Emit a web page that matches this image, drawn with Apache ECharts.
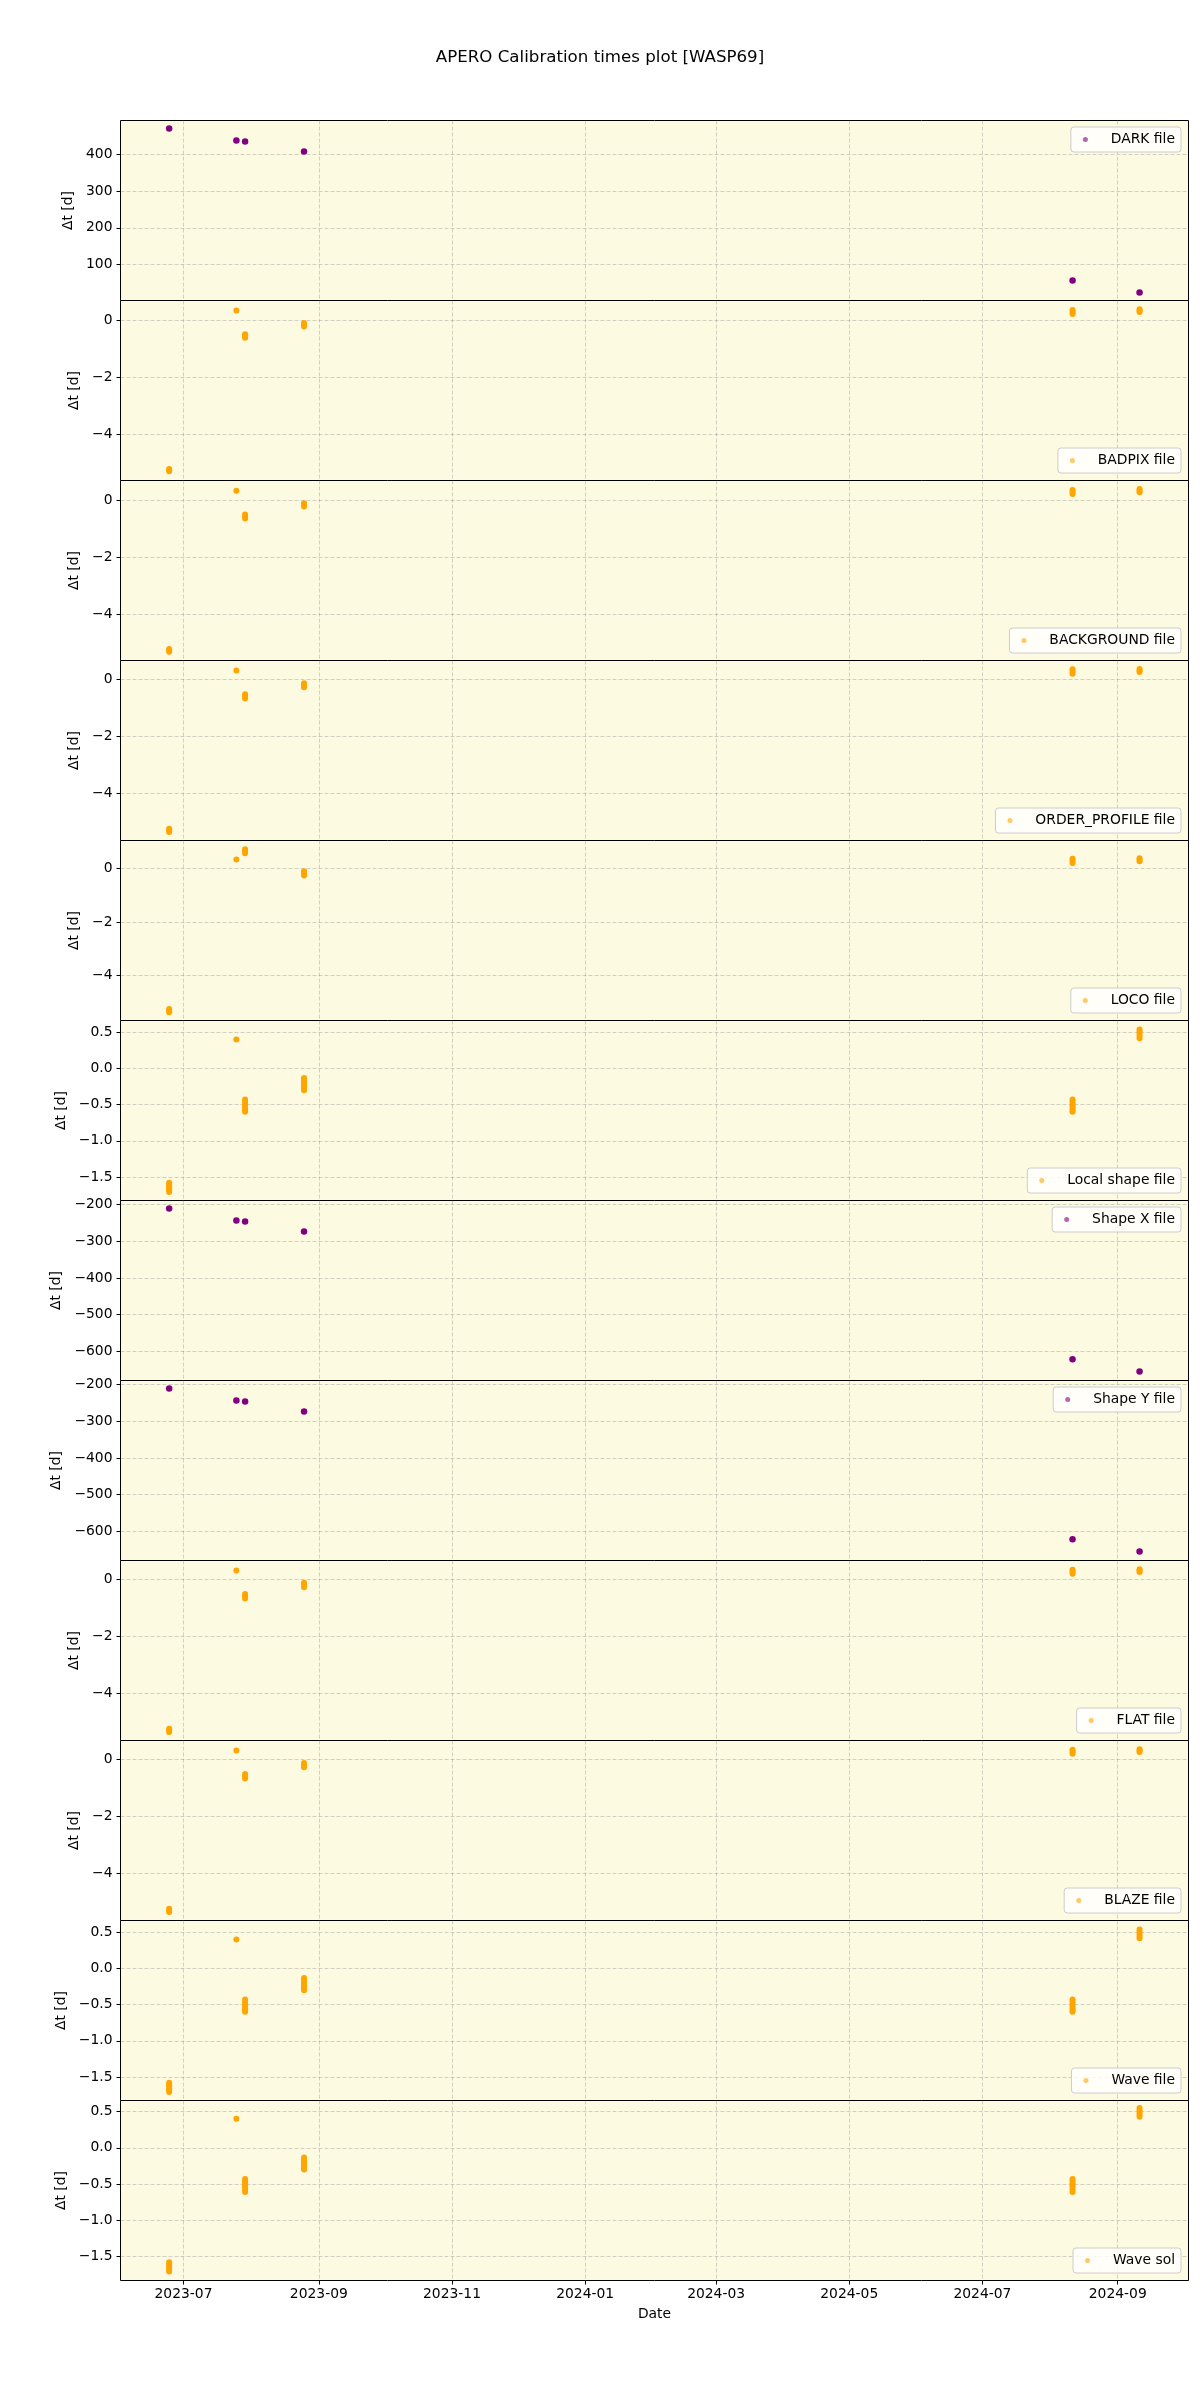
<!DOCTYPE html>
<html>
<head>
<meta charset="utf-8">
<script src="https://cdn.jsdelivr.net/npm/echarts@6/dist/echarts.min.js"></script>
<style>
html,body{margin:0;padding:0;background:#ffffff;}
#chart{width:1200px;height:2400px;}
</style>
</head>
<body>
<div id="chart"></div>
<script>
// ---------------- data ----------------
const chartTitle = 'APERO Calibration times plot [WASP69]';
const obsDates = ['2023-06-24T10:00:00Z', '2023-07-25T05:00:00Z', '2023-07-29T05:00:00Z',
                  '2023-08-25T05:00:00Z', '2024-08-11T07:00:00Z', '2024-09-11T00:00:00Z'];
const xTickLabels = ['2023-07', '2023-09', '2023-11', '2024-01', '2024-03', '2024-05', '2024-07', '2024-09'];
const xLimits = ['2023-06-02T03:00:00Z', '2024-10-03T10:00:00Z'];

const panelNames = ['DARK file', 'BADPIX file', 'BACKGROUND file', 'ORDER_PROFILE file', 'LOCO file',
                    'Local shape file', 'Shape X file', 'Shape Y file', 'FLAT file', 'BLAZE file',
                    'Wave file', 'Wave sol'];
const panelColors = ['#800080', '#ffa500', '#ffa500', '#ffa500', '#ffa500', '#ffa500',
                     '#800080', '#800080', '#ffa500', '#ffa500', '#ffa500', '#ffa500'];
const legendCorner = ['top', 'bottom', 'bottom', 'bottom', 'bottom', 'bottom',
                      'top', 'top', 'bottom', 'bottom', 'bottom', 'bottom'];

// Δt values [d], one list per observation date (several exposures per night)
const darkDt = [[470.9], [438.2], [435.5], [408.2], [56.4], [23.6]];
const badpixDt = [[-5.21, -5.25, -5.29], [0.35], [-0.48, -0.52, -0.56, -0.61], [-0.09, -0.15, -0.21], [0.23, 0.30, 0.37], [0.30, 0.35, 0.39]];
const backgroundDt = [[-5.21, -5.25, -5.30], [0.34], [-0.49, -0.56, -0.63], [-0.10, -0.15, -0.21], [0.23, 0.30, 0.37], [0.29, 0.35, 0.40]];
const orderProfileDt = [[-5.24, -5.29, -5.35], [0.32], [-0.52, -0.60, -0.67], [-0.13, -0.20, -0.27], [0.20, 0.28, 0.36], [0.26, 0.32, 0.37]];
const locoDt = [[-5.25, -5.31, -5.37], [0.34], [0.57, 0.64, 0.72], [-0.10, -0.18, -0.26], [0.21, 0.29, 0.37], [0.27, 0.33, 0.385]];
const localShapeDt = [[-1.58, -1.605, -1.63, -1.655, -1.68, -1.71], [0.40], [-0.43, -0.46, -0.49, -0.52, -0.55, -0.58, -0.60],
                      [-0.13, -0.16, -0.19, -0.22, -0.25, -0.28, -0.30], [-0.43, -0.46, -0.49, -0.52, -0.55, -0.58, -0.60], [0.42, 0.45, 0.48, 0.51, 0.54]];
const shapeXDt = [[-210.9], [-243.6], [-246.3], [-273.6], [-621.5], [-654.8]];
const shapeYDt = [[-210.9], [-243.6], [-246.3], [-273.6], [-621.5], [-654.8]];
const flatDt = [[-5.24, -5.29, -5.35], [0.32], [-0.51, -0.59, -0.67], [-0.11, -0.19, -0.27], [0.20, 0.27, 0.34], [0.26, 0.31, 0.36]];
const blazeDt = [[-5.24, -5.30, -5.35], [0.32], [-0.51, -0.59, -0.67], [-0.12, -0.20, -0.27], [0.20, 0.27, 0.34], [0.26, 0.31, 0.36]];
const waveFileDt = [[-1.58, -1.605, -1.63, -1.655, -1.68, -1.71], [0.40], [-0.43, -0.46, -0.49, -0.52, -0.55, -0.58, -0.60],
                    [-0.13, -0.16, -0.19, -0.22, -0.25, -0.28, -0.30], [-0.43, -0.46, -0.49, -0.52, -0.55, -0.58, -0.60], [0.42, 0.45, 0.48, 0.51, 0.54]];
const waveSolDt = [[-1.58, -1.605, -1.63, -1.655, -1.68, -1.71], [0.40], [-0.43, -0.46, -0.49, -0.52, -0.55, -0.58, -0.61],
                   [-0.135, -0.165, -0.195, -0.225, -0.255, -0.28, -0.30], [-0.43, -0.46, -0.49, -0.52, -0.55, -0.58, -0.61], [0.43, 0.46, 0.49, 0.52, 0.55]];
const panelValues = [darkDt, badpixDt, backgroundDt, orderProfileDt, locoDt, localShapeDt,
                     shapeXDt, shapeYDt, flatDt, blazeDt, waveFileDt, waveSolDt];

// y axis limits and tick labels
const yLimits = [[1.8, 492.7], [-5.61, 0.70], [-5.61, 0.70], [-5.65, 0.667], [-5.68, 1.05], [-1.826, 0.664],
                 [-679.1, -189.1], [-679.1, -189.1], [-5.65, 0.667], [-5.65, 0.667], [-1.826, 0.664], [-1.833, 0.653]];
const ticksDark = [100, 200, 300, 400];
const ticksDays = [-4, -2, 0];
const ticksHalf = [-1.5, -1.0, -0.5, 0.0, 0.5];
const ticksShape = [-600, -500, -400, -300, -200];
const yTicks = [ticksDark, ticksDays, ticksDays, ticksDays, ticksDays, ticksHalf,
                ticksShape, ticksShape, ticksDays, ticksDays, ticksHalf, ticksHalf];
const yDecimals = [0, 0, 0, 0, 0, 1, 0, 0, 0, 0, 1, 1];

// ---------------- layout / style ----------------
const FONT = 'DejaVu Sans';
const FS = 13.89;
const PANEL_TOP = 120.5, PANEL_H = 180, PANEL_LEFT = 120.5, PANEL_W = 1068;
const yNameGaps = [44, 38, 38, 38, 38, 51, 55, 55, 38, 38, 51, 51];
const gridLine = { show: true, lineStyle: { color: 'rgba(128,128,128,0.35)', type: [4, 2], width: 1 } };

const xMs = obsDates.map(d => Date.parse(d));
const xTickMs = xTickLabels.map(l => Date.parse(l + '-01T00:00:00Z'));
const xMin = Date.parse(xLimits[0]), xMax = Date.parse(xLimits[1]);

function fmtMonth(v) {
  const d = new Date(Number(v));
  const m = d.getUTCMonth() + 1;
  return d.getUTCFullYear() + '-' + (m < 10 ? '0' + m : m);
}

const grids = [], xAxes = [], yAxes = [], series = [], legends = [];
const N = panelNames.length;
for (let i = 0; i < N; i++) {
  const last = i === N - 1;
  grids.push({
    left: PANEL_LEFT, top: PANEL_TOP + PANEL_H * i, width: PANEL_W, height: PANEL_H,
    show: true, backgroundColor: '#fcfae1', borderColor: '#000', borderWidth: 1, containLabel: false
  });
  xAxes.push({
    type: 'value', gridIndex: i, min: xMin, max: xMax, scale: true, position: 'bottom',
    axisLine: { show: false, onZero: false },
    axisTick: { show: last, customValues: xTickMs, length: 4, lineStyle: { color: '#000' } },
    axisLabel: { show: last, customValues: xTickMs, formatter: v => fmtMonth(v), margin: 7,
                 color: '#000', fontFamily: FONT, fontSize: FS, hideOverlap: false },
    splitLine: gridLine,
    name: last ? 'Date' : '', nameLocation: 'middle', nameGap: 27,
    nameTextStyle: { color: '#000', fontFamily: FONT, fontSize: FS }
  });
  const dec = yDecimals[i];
  yAxes.push({
    type: 'value', gridIndex: i, min: yLimits[i][0], max: yLimits[i][1], position: 'left',
    axisLine: { show: false, onZero: false },
    axisTick: { show: true, customValues: yTicks[i], length: 4, lineStyle: { color: '#000' } },
    axisLabel: { customValues: yTicks[i], margin: 8, color: '#000', fontFamily: FONT, fontSize: FS,
                 formatter: v => (dec > 0 ? Number(v).toFixed(dec) : String(Math.round(v))).replace('-', '\u2212') },
    splitLine: gridLine,
    name: '\u0394t [d]', nameLocation: 'middle', nameRotate: 90, nameGap: yNameGaps[i],
    nameTextStyle: { color: '#000', fontFamily: FONT, fontSize: FS }
  });
  const data = [];
  panelValues[i].forEach((vals, d) => vals.forEach(v => data.push([xMs[d], v])));
  series.push({
    name: panelNames[i], type: 'scatter', xAxisIndex: i, yAxisIndex: i,
    symbol: 'circle', symbolSize: panelColors[i] === '#800080' ? 6.5 : 6,
    itemStyle: { color: panelColors[i], opacity: 1 },
    data: data, silent: true
  });
  const lg = {
    data: [panelNames[i]], orient: 'horizontal', right: 19,
    icon: 'circle', itemWidth: 32, itemHeight: 5,
    itemStyle: { opacity: 0.6 },
    formatter: n => ' ' + n,
    padding: [4, 6, 4, 12],
    backgroundColor: 'rgba(255,255,255,0.8)', borderColor: '#cccccc', borderWidth: 1, borderRadius: 3,
    selectedMode: false,
    textStyle: { color: '#000', fontFamily: FONT, fontSize: FS, lineHeight: 17 }
  };
  if (legendCorner[i] === 'top') lg.top = 120 + PANEL_H * i + 7;
  else lg.bottom = 2400 - (120 + PANEL_H * (i + 1)) + 7;
  legends.push(lg);
}

const chart = echarts.init(document.getElementById('chart'), null, { renderer: 'canvas' });
chart.setOption({
  animation: false,
  backgroundColor: '#ffffff',
  title: { text: chartTitle, left: 'center', top: 44,
           textStyle: { color: '#000', fontFamily: FONT, fontSize: 16.67, fontWeight: 'normal' } },
  grid: grids, xAxis: xAxes, yAxis: yAxes, series: series, legend: legends
});
</script>
</body>
</html>
